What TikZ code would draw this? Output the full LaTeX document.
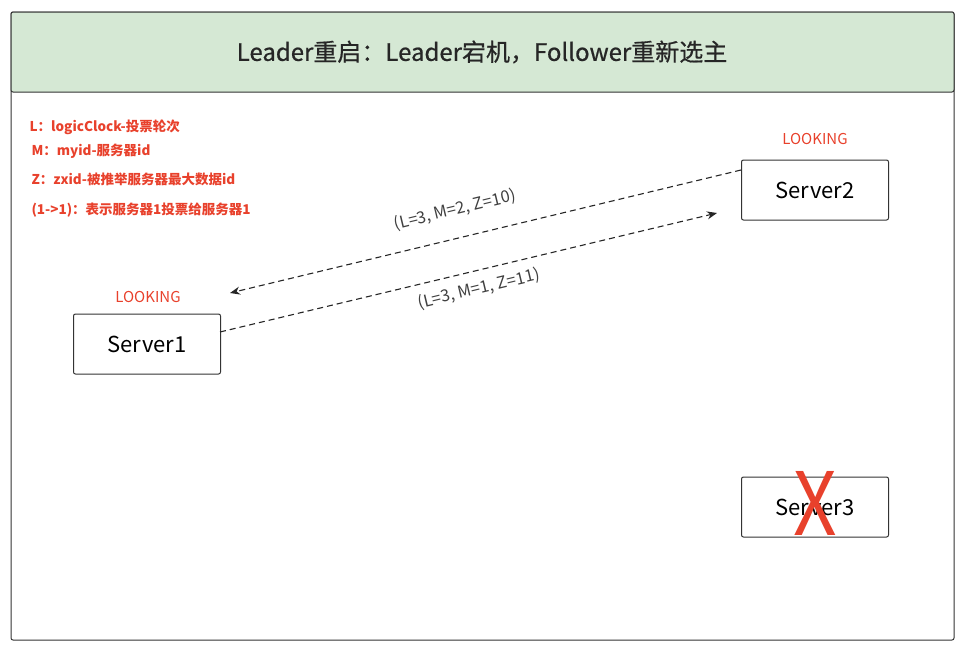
\documentclass[tikz,border=0pt]{standalone}
\usepackage{fontspec}
\setmainfont{Noto Sans CJK SC}
\newfontfamily\medfont[FakeBold=0.6]{Noto Sans CJK SC}
\usetikzlibrary{arrows.meta}
\definecolor{hdr}{HTML}{D5E8D4}
\definecolor{redt}{HTML}{E8412C}
\tikzset{
 srv/.style={draw=black!80,line width=1pt,rounded corners=2pt,minimum width=147pt,minimum height=60pt,font=\fontsize{22}{26}\selectfont},
 lk/.style={text=redt,font=\fontsize{15}{18}\selectfont},
 leg/.style={text=redt,anchor=west,font=\fontsize{13.5}{16}\selectfont\bfseries},
 msg/.style={draw=black!85,line width=1.1pt,dash pattern=on 6pt off 4pt,-{Stealth[length=10pt,width=8pt]}},
 ml/.style={text=black!75,font=\fontsize{16.5}{19}\selectfont}
}
\begin{document}
\begin{tikzpicture}[x=1pt,y=-1pt]
\useasboundingbox (0,0) rectangle (967,649);
\draw[black!80,line width=1pt,rounded corners=2pt] (11,12) rectangle (954,640);
\draw[black!80,line width=1pt,fill=hdr,rounded corners=2pt] (11,12) rectangle (954,92);
\node[font=\fontsize{24}{28}\selectfont\medfont,text=black!85] (title) at (482,52) {Leader重启：Leader宕机，Follower重新选主};
\node[leg] (l1) at (26,127) {L：logicClock-投票轮次};
\node[leg] (l2) at (28,151) {M：myid-服务器id};
\node[leg] (l3) at (28,179) {Z：zxid-被推举服务器最大数据id};
\node[leg] (l4) at (28,210) {(1-\textgreater1)：表示服务器1投票给服务器1};
\node[srv] (s2) at (815,190) {Server2};
\node[lk] (lk2) at (815,139) {LOOKING};
\node[srv] (s1) at (147,344) {Server1};
\node[lk] (lk1) at (148,297) {LOOKING};
\node[srv] (s3) at (815,507) {Server3};
\node[text=redt,font=\fontsize{76}{76}\selectfont,yscale=1.15] (x) at (815,503) {X};
\coordinate (a1s) at (741,170);
\coordinate (a1e) at (230,293);
\coordinate (a2s) at (220,332);
\coordinate (a2e) at (717,213);
\draw[msg] (a1s) -- (a1e);
\draw[msg] (a2s) -- (a2e);
\node[ml,rotate=13.6] (m1) at (455,210) {(L=3, M=2, Z=10)};
\node[ml,rotate=13.5] (m2) at (479,289) {(L=3, M=1, Z=11)};
\end{tikzpicture}
\end{document}
